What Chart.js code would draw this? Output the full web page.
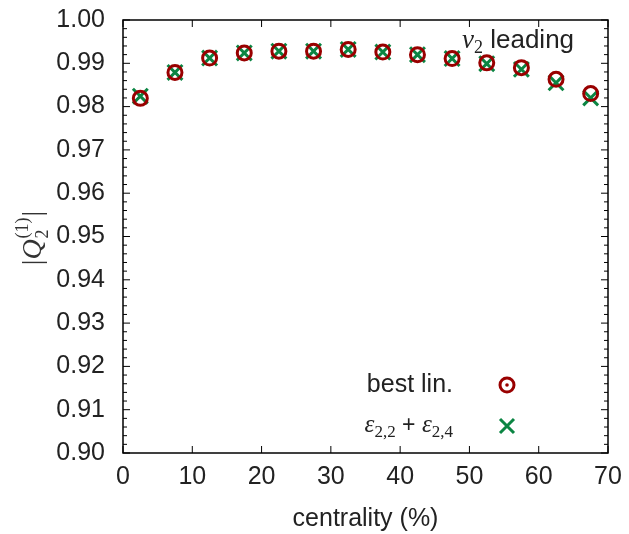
<!DOCTYPE html>
<html><head><meta charset="utf-8">
<script src="https://cdn.jsdelivr.net/npm/chart.js@4/dist/chart.umd.min.js"></script>
<style>html,body{margin:0;padding:0;background:#fff}#wrap{width:629px;height:534px}</style>
</head><body><div id="wrap"><canvas id="c"></canvas></div>
<script>
const centrality = [2.5, 7.5, 12.5, 17.5, 22.5, 27.5, 32.5, 37.5, 42.5, 47.5, 52.5, 57.5, 62.5, 67.5];
const bestLin =   [0.9819, 0.9879, 0.9912, 0.9924, 0.9928, 0.9928, 0.9932, 0.9926, 0.9920, 0.9911, 0.9901, 0.9890, 0.9863, 0.9830];
const epsSum =    [0.9824, 0.9879, 0.9912, 0.9924, 0.9928, 0.9928, 0.9932, 0.9926, 0.9920, 0.9911, 0.9899, 0.9886, 0.9855, 0.9820];
const xTicks = [0, 10, 20, 30, 40, 50, 60, 70];
const yTicks = [0.90, 0.91, 0.92, 0.93, 0.94, 0.95, 0.96, 0.97, 0.98, 0.99, 1.00];

const RED = '#990000', GREEN = '#0b8543', TXT = '#222';
const SANS = '"Liberation Sans", Arial, sans-serif';
const SERIF = '"Liberation Serif", "DejaVu Serif", serif';

function drawRich(ctx, parts, x, y, align) {
  let w = 0;
  parts.forEach(p => { ctx.font = p[1]; w += ctx.measureText(p[0]).width; });
  let cx = align === 'right' ? x - w : (align === 'center' ? x - w / 2 : x);
  parts.forEach(p => { ctx.font = p[1]; ctx.textAlign = 'left'; ctx.fillText(p[0], cx, y + (p[2] || 0)); cx += ctx.measureText(p[0]).width; });
}

const decor = {
  id: 'decor',
  afterDraw(chart) {
    const ctx = chart.ctx, a = chart.chartArea, xs = chart.scales.x, ys = chart.scales.y;
    ctx.save();
    ctx.strokeStyle = '#000'; ctx.lineWidth = 1.5;
    ctx.strokeRect(a.left, a.top, a.right - a.left, a.bottom - a.top);
    ctx.lineWidth = 1;
    ctx.beginPath();
    xTicks.forEach(v => {
      const px = xs.getPixelForValue(v);
      ctx.moveTo(px, a.bottom); ctx.lineTo(px, a.bottom - 7);
      ctx.moveTo(px, a.top); ctx.lineTo(px, a.top + 7);
    });
    for (let k = 0; k <= 50; k++) {
      const v = 0.90 + k * 0.002;
      const py = ys.getPixelForValue(v);
      const len = (k % 5 === 0) ? 7 : 4;
      ctx.moveTo(a.left, py); ctx.lineTo(a.left + len, py);
      ctx.moveTo(a.right, py); ctx.lineTo(a.right - len, py);
    }
    ctx.stroke();

    ctx.fillStyle = TXT; ctx.textBaseline = 'alphabetic';
    // v2 leading
    drawRich(ctx, [['v', 'italic 27px ' + SERIF, 0], ['2', '18px ' + SERIF, 5], [' leading', '26px ' + SANS, 0]], 462, 48, 'left');

    // legend
    ctx.font = '25px ' + SANS; ctx.textAlign = 'right';
    ctx.fillText('best lin.', 453, 392);
    drawRich(ctx, [['ε', 'italic 25px ' + SERIF, 0], ['2,2', '17px ' + SERIF, 5], [' + ', '23px ' + SANS, 0], ['ε', 'italic 25px ' + SERIF, 0], ['2,4', '17px ' + SERIF, 5]], 453, 432, 'right');
    ctx.strokeStyle = RED; ctx.lineWidth = 3;
    ctx.beginPath(); ctx.arc(507, 385, 7, 0, Math.PI * 2); ctx.stroke();
    ctx.fillStyle = RED; ctx.beginPath(); ctx.arc(507, 385, 1.8, 0, Math.PI * 2); ctx.fill();
    ctx.strokeStyle = GREEN; ctx.lineWidth = 3;
    ctx.beginPath(); ctx.moveTo(500, 419); ctx.lineTo(514, 433); ctx.moveTo(514, 419); ctx.lineTo(500, 433); ctx.stroke();

    // y-axis title: |Q_2^(1)| with stacked sub/superscript
    ctx.fillStyle = '#333';
    ctx.translate(41, 238); ctx.rotate(-Math.PI / 2);
    const big = '28px ' + SERIF, bigI = 'italic 28px ' + SERIF, small = '18px ' + SERIF;
    ctx.font = big; const wBar = ctx.measureText('|').width;
    ctx.font = bigI; const wQ = ctx.measureText('Q').width;
    ctx.font = small; const wSub = ctx.measureText('2').width, wSup = ctx.measureText('(1)').width;
    const total = wBar * 2 + wQ + Math.max(wSub, wSup) + 2;
    let cx = -total / 2;
    ctx.textAlign = 'left';
    ctx.font = big; ctx.fillText('|', cx, 0); cx += wBar;
    ctx.font = bigI; ctx.fillText('Q', cx, 0); cx += wQ + 1;
    ctx.font = small; ctx.fillText('2', cx, 7); ctx.fillText('(1)', cx, -13); cx += Math.max(wSub, wSup) + 1;
    ctx.font = big; ctx.fillText('|', cx, 0);
    ctx.restore();
  }
};

new Chart(document.getElementById('c'), {
  type: 'scatter',
  data: {
    datasets: [
      { label: 'best lin.', data: centrality.map((x, i) => ({ x, y: bestLin[i] })), pointStyle: 'circle', pointRadius: 7, pointHoverRadius: 7, pointBorderWidth: 3, borderColor: RED, backgroundColor: 'rgba(0,0,0,0)' },
      { label: 'ε2,2 + ε2,4', data: centrality.map((x, i) => ({ x, y: epsSum[i] })), pointStyle: 'crossRot', pointRadius: 10.5, pointHoverRadius: 10.5, pointBorderWidth: 3, borderColor: GREEN, backgroundColor: GREEN }
    ]
  },
  options: {
    responsive: true, maintainAspectRatio: false, animation: false,
    layout: { padding: { left: 0, right: 21, top: 20, bottom: 0 } },
    plugins: { legend: { display: false }, tooltip: { enabled: false } },
    scales: {
      x: {
        type: 'linear', min: 0, max: 70,
        afterBuildTicks: s => { s.ticks = xTicks.map(v => ({ value: v })); },
        afterFit: s => { s.height = 81; s.paddingLeft = 0; s.paddingRight = 0; },
        grid: { display: false, drawTicks: false }, border: { display: false },
        ticks: { padding: 9, color: TXT, font: { family: SANS, size: 25 } },
        title: { display: true, text: 'centrality (%)', color: TXT, font: { family: SANS, size: 25 }, padding: { top: 4, bottom: 0 } }
      },
      y: {
        type: 'linear', min: 0.90, max: 1.00,
        afterBuildTicks: s => { s.ticks = yTicks.map(v => ({ value: v })); },
        afterFit: s => { s.width = 123; s.paddingTop = 0; s.paddingBottom = 0; },
        grid: { display: false, drawTicks: false }, border: { display: false },
        ticks: { padding: 18, color: TXT, font: { family: SANS, size: 25 }, callback: v => Number(v).toFixed(2) }
      }
    }
  },
  plugins: [decor]
});
</script></body></html>
